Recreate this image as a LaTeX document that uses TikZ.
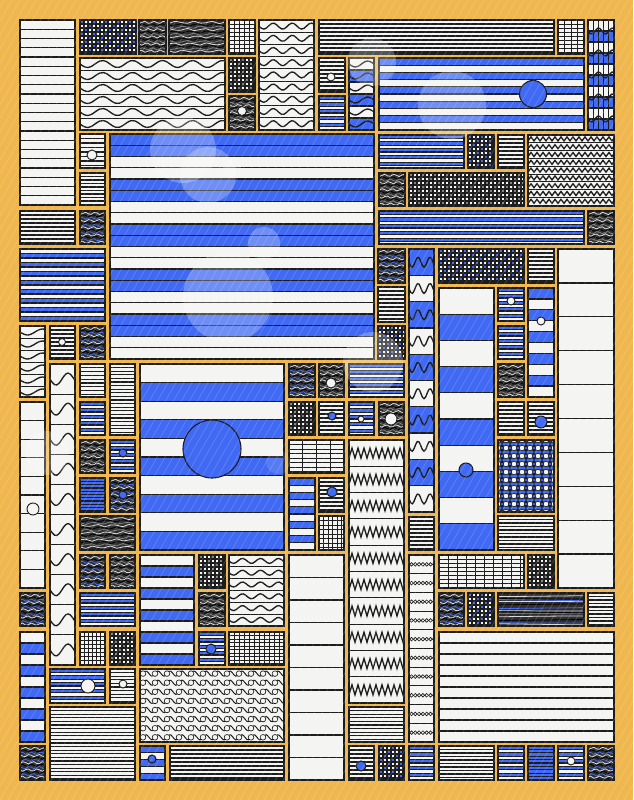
\documentclass[tikz,border=0pt]{standalone}
\definecolor{bgo}{HTML}{EFB74E}
\definecolor{blu}{HTML}{4069F4}
\definecolor{pap}{HTML}{F4F4F2}
\definecolor{ink}{HTML}{1C1C1C}
\definecolor{drk}{HTML}{2E2E2E}
\tikzset{
  edge/.style={draw=ink,line width=1.4pt},
  inl/.style={draw=ink,line width=1pt},
  thinl/.style={draw=ink,line width=0.75pt},
  bubble/.style={fill=white,opacity=0.25}
}
% stripes / rows
\newcommand{\tlS}[5]{%
 \fill[pap] (#1,#2) rectangle (#3,#4);
 \begin{scope}\clip (#1,#2) rectangle (#3,#4);
 \pgfmathtruncatemacro\Nn{(#4-#2)/#5}
 \foreach \i in {1,...,\Nn}{\draw[inl] (#1,{#2+\i*#5}) -- (#3,{#2+\i*#5});}
 \end{scope}
 \draw[edge] (#1,#2) rectangle (#3,#4);}
% bands blue/white: h parity group
\newcommand{\tlB}[7]{%
 \fill[pap] (#1,#2) rectangle (#3,#4);
 \begin{scope}\clip (#1,#2) rectangle (#3,#4);
 \pgfmathtruncatemacro\Nn{ceil((#4-#2)/#5)}
 \foreach \i in {0,...,\Nn}{%
   \pgfmathtruncatemacro\Pq{mod(floor(\i/#7)+#6,2)}%
   \ifnum\Pq=0 \fill[blu] (#1,{#2+\i*#5}) rectangle (#3,{#2+(\i+1)*#5});\fi
   \draw[inl] (#1,{#2+\i*#5}) -- (#3,{#2+\i*#5});}
 \end{scope}
 \draw[edge] (#1,#2) rectangle (#3,#4);}
% dark dense
\newcommand{\tlD}[5]{%
 \fill[drk] (#1,#2) rectangle (#3,#4);
 \begin{scope}\clip (#1,#2) rectangle (#3,#4);
 \pgfmathtruncatemacro\Nn{(#4-#2)/2.4}
 \foreach \i in {1,...,\Nn}{%
  \pgfmathtruncatemacro\Pq{mod(\i,3)}%
  \ifcase\Pq\relax \def\Cc{#5}\or\def\Cc{white!70!gray}\else\def\Cc{black}\fi
  \draw[draw=\Cc,line width=0.6pt] plot[domain=#1:#3,samples=10,smooth] (\x,{#2+\i*2.4+1.2*sin((\x-#1)*37+\i*71)});}
 \end{scope}
 \draw[edge] (#1,#2) rectangle (#3,#4);}
% grid white
\newcommand{\tlG}[6]{%
 \fill[pap] (#1,#2) rectangle (#3,#4);
 \begin{scope}\clip (#1,#2) rectangle (#3,#4);
 \pgfmathtruncatemacro\Nn{(#4-#2)/#6}
 \foreach \i in {1,...,\Nn}{\draw[thinl] (#1,{#2+\i*#6}) -- (#3,{#2+\i*#6});}
 \pgfmathtruncatemacro\Mm{(#3-#1)/#5}
 \foreach \i in {1,...,\Mm}{\draw[thinl] ({#1+\i*#5},#2) -- ({#1+\i*#5},#4);}
 \end{scope}
 \draw[edge] (#1,#2) rectangle (#3,#4);}
% dense dark grid with accent holes
\newcommand{\tlGD}[5]{%
 \fill[pap] (#1,#2) rectangle (#3,#4);
 \begin{scope}\clip (#1,#2) rectangle (#3,#4);
 \pgfmathtruncatemacro\Mm{(#3-#1)/4}
 \pgfmathtruncatemacro\Nn{(#4-#2)/4}
 \foreach \i in {0,...,\Mm}{\foreach \j in {0,...,\Nn}{%
   \pgfmathtruncatemacro\Pq{mod(\i+\j,3)}%
   \ifnum\Pq=0 \fill[#5] ({#1+\i*4+0.5},{#2+\j*4+0.5}) rectangle ++(3,3);\fi}}
 \foreach \j in {0,...,\Nn}{\draw[ink,line width=1.1pt] (#1,{#2+\j*4}) -- (#3,{#2+\j*4});}
 \foreach \i in {0,...,\Mm}{\draw[ink,line width=1.1pt] ({#1+\i*4},#2) -- ({#1+\i*4},#4);}
 \end{scope}
 \draw[edge] (#1,#2) rectangle (#3,#4);}
% wave overlay
\newcommand{\ovW}[7]{%
 \begin{scope}\clip (#1,#2) rectangle (#3,#4);
 \pgfmathtruncatemacro\Nn{round((#4-#2)/#5)}
 \pgfmathtruncatemacro\Sm{max(12,8*(#3-#1)/#6)}
 \foreach \i in {1,...,\Nn}{\draw[inl] plot[domain=#1:#3,samples=\Sm,smooth] (\x,{#2+(\i-0.5)*#5+#7*sin((\x-#1)/#6*360)});}
 \end{scope}
 \draw[edge] (#1,#2) rectangle (#3,#4);}
% vertical line overlay
\newcommand{\ovV}[5]{%
 \begin{scope}\clip (#1,#2) rectangle (#3,#4);
 \pgfmathtruncatemacro\Mm{(#3-#1)/#5}
 \foreach \i in {1,...,\Mm}{\draw[thinl] ({#1+\i*#5},#2) -- ({#1+\i*#5},#4);}
 \end{scope}
 \draw[edge] (#1,#2) rectangle (#3,#4);}
% waves tile
\newcommand{\tlW}[7]{%
 \fill[pap] (#1,#2) rectangle (#3,#4);
 \begin{scope}\clip (#1,#2) rectangle (#3,#4);
 \pgfmathtruncatemacro\Nn{round((#4-#2)/#5)}
 \foreach \i in {1,...,\Nn}{\draw[thinl] (#1,{#2+\i*#5}) -- (#3,{#2+\i*#5});}
 \end{scope}
 \ovW{#1}{#2}{#3}{#4}{#5}{#6}{#7}}
% zigzag tile
\newcommand{\tlZ}[7]{%
 \fill[pap] (#1,#2) rectangle (#3,#4);
 \begin{scope}\clip (#1,#2) rectangle (#3,#4);
 \pgfmathtruncatemacro\Nn{round((#4-#2)/#5)}
 \pgfmathtruncatemacro\Kk{2*(#3-#1)/#6+2}
 \pgfmathtruncatemacro\Ks{\Kk+1}
 \foreach \i in {1,...,\Nn}{%
   \draw[thinl] (#1,{#2+\i*#5}) -- (#3,{#2+\i*#5});
   \pgfmathsetmacro\Yc{#2+(\i-0.5)*#5}
   \draw[inl] plot[domain=0:\Kk,samples=\Ks] ({#1+\x*#6/2},{\Yc+#7*(1-2*mod(round(\x),2))});}
 \end{scope}
 \draw[edge] (#1,#2) rectangle (#3,#4);}
% circle chain rows
\newcommand{\tlO}[5]{%
 \fill[pap] (#1,#2) rectangle (#3,#4);
 \begin{scope}\clip (#1,#2) rectangle (#3,#4);
 \pgfmathtruncatemacro\Nn{round((#4-#2)/#5)}
 \foreach \i in {1,...,\Nn}{%
   \draw[thinl] (#1,{#2+\i*#5}) -- (#3,{#2+\i*#5});
   \foreach \k in {0,...,6}{\draw[ink,line width=0.5pt] ({#1+2.5+\k*3.8},{#2+(\i-0.5)*#5}) circle (1.8);}}
 \end{scope}
 \draw[edge] (#1,#2) rectangle (#3,#4);}
% circles on blue with hourglasses
\newcommand{\tlC}[4]{%
 \fill[blu] (#1,#2) rectangle (#3,#4);
 \begin{scope}\clip (#1,#2) rectangle (#3,#4);
 \foreach \i in {0,...,7}{\foreach \j in {0,...,9}{%
   \fill[ink] ({#1+\i*8+1},{#2+\j*8+1}) -- ++(6,0) -- ++(-6,6) -- ++(6,0) -- cycle;}}
 \foreach \i in {0,...,7}{\foreach \j in {0,...,9}{%
   \filldraw[fill=pap,draw=ink,line width=0.5pt] ({#1+\i*8},{#2+\j*8}) circle (2.8);}}
 \end{scope}
 \draw[edge] (#1,#2) rectangle (#3,#4);}
% circles and waves on white
\newcommand{\tlCW}[4]{%
 \fill[pap] (#1,#2) rectangle (#3,#4);
 \begin{scope}\clip (#1,#2) rectangle (#3,#4);
 \foreach \j in {0,...,7}{%
   \pgfmathsetmacro\Yc{#2+4.6+\j*9.1}
   \draw[thinl] plot[domain=#1:#3,samples=90,smooth] (\x,{\Yc+2.6*sin((\x-#1)/12*360+90)});
   \foreach \k in {0,...,12}{\filldraw[fill=pap,draw=ink,line width=0.5pt] ({#1+3+\k*12},\Yc) circle (2.8);}}
 \end{scope}
 \draw[edge] (#1,#2) rectangle (#3,#4);}
\newcommand{\dW}[3]{\filldraw[fill=pap,draw=ink,line width=0.7pt] (#1,#2) circle (#3);}
\newcommand{\dB}[3]{\filldraw[fill=blu,draw=ink,line width=0.8pt] (#1,#2) circle (#3);}

\begin{document}
\begin{tikzpicture}[x=0.75pt,y=-0.75pt]
\useasboundingbox (0,0) rectangle (633,800);
\fill[bgo] (0,0) rectangle (633,800);
% ---- top rows
\tlS{20}{20}{75}{205}{9.25}
\tlGD{80}{20}{136}{54}{blu}
\tlD{139}{20}{166}{54}{gray}
\tlD{169}{20}{225}{54}{gray}
\tlG{229}{20}{255}{54}{5}{4}
\tlW{259}{20}{314}{130}{12.2}{19}{3}
\tlS{319}{20}{554}{54}{4}
\tlG{558}{20}{584}{54}{6.5}{4}
\tlB{588}{20}{614}{130}{11}{1}{1}\ovV{588}{20}{614}{130}{5}\ovW{588}{20}{614}{130}{22}{14}{3}
\tlW{80}{58}{225}{130}{12}{30}{3.5}
\tlGD{229}{58}{255}{92}{gray}
\tlD{229}{96}{255}{130}{gray}\dW{242}{111}{4.5}
\tlS{319}{58}{345}{92}{4}\dW{331}{77}{4}
\tlB{319}{96}{345}{130}{3.4}{0}{1}
\tlB{349}{58}{374}{130}{12}{1}{1}\ovW{349}{58}{374}{130}{12}{25}{3}
\tlB{379}{58}{584}{130}{7.2}{0}{1}\dB{533}{94}{13.5}
% ---- third band
\tlS{80}{134}{105}{168}{4.5}\dW{92}{155}{5}
\tlS{80}{173}{105}{205}{3.5}
\tlB{110}{134}{374}{359}{11.25}{0}{2}
\tlB{379}{135}{464}{168}{3.4}{0}{1}
\tlGD{468}{135}{494}{168}{blu}
\tlS{498}{135}{524}{168}{4}
\tlZ{528}{135}{614}{206}{7.8}{6}{2}
\tlD{379}{173}{405}{206}{gray}
\tlGD{409}{173}{524}{206}{gray}
\tlS{20}{211}{75}{244}{4}
\tlD{80}{211}{105}{244}{blu}
\tlB{379}{211}{584}{244}{3.4}{0}{1}
\tlD{588}{211}{614}{244}{gray}
\tlB{20}{249}{105}{321}{4.5}{1}{1}
\tlD{378}{249}{405}{283}{blu}
\tlB{409}{249}{434}{512}{26.3}{0}{1}\ovW{409}{249}{434}{512}{26.3}{12}{5}
\tlGD{439}{249}{524}{283}{blu}
\tlS{528}{249}{554}{283}{4}
\tlS{558}{249}{614}{588}{33.9}
\tlS{378}{287}{405}{322}{4}
\tlB{439}{288}{494}{550}{26.2}{1}{1}\dB{466}{470}{7}
\tlB{498}{288}{524}{321}{3.3}{0}{1}\dW{511}{301}{4}
\tlB{528}{288}{554}{397}{10.9}{0}{1}\dW{541}{321}{4}
\tlW{20}{326}{45}{397}{12}{30}{3}
\tlS{50}{326}{75}{359}{4}\dW{62}{342}{3.5}
\tlD{80}{326}{105}{359}{blu}
\tlGD{378}{326}{405}{359}{blu}
\tlB{498}{326}{524}{359}{3.3}{0}{1}
% ---- middle
\tlW{50}{364}{75}{665}{30.1}{24}{6}
\tlS{80}{364}{105}{397}{3.8}
\tlS{110}{364}{135}{435}{3.6}
\tlB{140}{364}{284}{550}{18.6}{1}{1}\dB{212}{449}{29}
\tlD{289}{364}{315}{397}{blu}
\tlD{319}{364}{344}{397}{gray}\dW{331}{383}{5}
\tlB{349}{364}{404}{397}{3.3}{0}{1}
\tlD{498}{364}{524}{397}{gray}
\tlS{20}{402}{45}{588}{18.6}\dW{33}{509}{6}
\tlB{80}{402}{105}{435}{3.3}{0}{1}
\tlGD{289}{402}{315}{435}{gray}
\tlS{319}{402}{344}{435}{4}\dB{332}{416}{4}
\tlB{349}{402}{374}{435}{3.4}{0}{1}\dW{361}{419}{3}
\tlD{379}{402}{404}{435}{gray}\dW{391}{419}{6}
\tlS{498}{402}{524}{435}{4}
\tlS{528}{402}{554}{435}{4}\dB{541}{422}{6}
\tlD{80}{440}{105}{473}{gray}
\tlB{110}{440}{135}{473}{3.3}{0}{1}\dB{123}{453}{4}
\tlG{289}{440}{344}{473}{13.75}{4.5}
\tlZ{349}{440}{404}{703}{26.3}{6}{5}
\tlC{498}{440}{554}{512}
\tlB{80}{478}{105}{512}{3.3}{0}{100}
\tlD{110}{478}{135}{512}{blu}\dB{123}{495}{4}
\tlB{289}{478}{315}{550}{7.2}{0}{1}
\tlS{319}{478}{344}{512}{4}\dB{332}{492}{5}
\tlG{319}{516}{344}{550}{4.5}{4.5}
\tlS{409}{517}{434}{550}{4}
\tlS{498}{516}{554}{550}{3.5}
\tlD{80}{516}{135}{550}{gray}
% ---- lower
\tlD{80}{555}{105}{588}{blu}
\tlD{110}{555}{135}{588}{gray}
\tlB{140}{555}{194}{665}{11}{1}{1}
\tlGD{199}{555}{225}{588}{gray}
\tlW{229}{555}{284}{626}{11.8}{18}{2.5}
\tlS{289}{555}{344}{780}{22.5}
\tlO{409}{555}{434}{742}{18.7}
\tlG{439}{555}{524}{588}{9}{4}
\tlGD{528}{555}{554}{588}{gray}
\tlD{20}{593}{45}{626}{blu}
\tlB{80}{593}{135}{626}{3.3}{0}{1}
\tlD{199}{593}{225}{626}{gray}
\tlD{439}{593}{464}{626}{blu}
\tlGD{468}{593}{494}{626}{blu}
\tlD{498}{593}{584}{626}{blu}
\tlS{588}{593}{614}{626}{3.5}
\tlB{20}{632}{45}{742}{11}{1}{1}
\tlG{80}{632}{105}{665}{4}{4}
\tlGD{110}{632}{135}{665}{gray}
\tlB{199}{632}{225}{665}{3.3}{0}{1}\dB{211}{649}{5}
\tlG{229}{632}{284}{665}{5}{3.5}
\tlS{439}{632}{614}{742}{11}
\tlB{50}{669}{105}{703}{3.4}{0}{1}\dW{88}{686}{7}
\tlS{110}{669}{135}{703}{3.6}\dW{123}{684}{4}
\tlCW{140}{669}{284}{742}
\tlS{50}{707}{135}{780}{3.6}
\tlS{349}{707}{404}{742}{3.6}
\tlD{20}{746}{45}{780}{blu}
\tlB{140}{746}{165}{780}{6.8}{0}{1}\dB{152}{759}{4}
\tlS{170}{746}{284}{780}{4}
\tlS{349}{746}{374}{780}{4}\dB{361}{766}{5}
\tlGD{379}{746}{404}{780}{blu}
\tlB{409}{746}{434}{780}{3.4}{0}{1}
\tlS{439}{746}{494}{780}{3.5}
\tlB{498}{746}{524}{780}{3.4}{0}{1}
\tlB{528}{746}{554}{780}{3.4}{0}{100}
\tlB{558}{746}{584}{780}{3.4}{0}{1}\dW{571}{761}{4}
\tlD{588}{746}{614}{780}{blu}
% ---- bubbles
\fill[bubble] (183,150) circle (33);
\fill[bubble] (208,175) circle (28);
\fill[bubble] (232,168) circle (9);
\fill[bubble] (264,243) circle (16);
\fill[bubble] (228,297) circle (45);
\fill[bubble] (372,62) circle (24);
\fill[bubble] (452,105) circle (34);
\fill[bubble] (373,362) circle (30);
\fill[bubble] (47,453) circle (22);
\fill[bubble,opacity=0.12] (278,462) circle (12);
% ---- hatch overlay
\begin{scope}
\clip (0,0) rectangle (633,800);
\foreach \k in {-480,-472,...,640}{\draw[white,opacity=0.16,line width=0.6pt] (\k,800) -- (\k+460,0);}
\end{scope}
\end{tikzpicture}
\end{document}
